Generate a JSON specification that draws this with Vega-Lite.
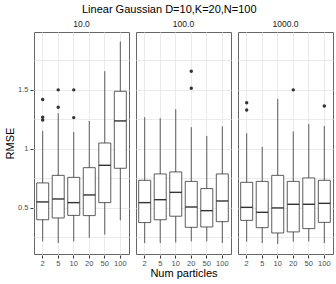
{
  "$schema": "https://vega.github.io/schema/vega-lite/v6.json",
  "padding": {"left": 4, "top": 3, "right": 2, "bottom": 2},
  "title": {"text": "Linear Gaussian D=10,K=20,N=100", "fontSize": 11, "fontWeight": "normal", "font": "Liberation Sans", "color": "#000", "anchor": "middle", "offset": 5},
  "data": {"values": [
    {"kind": "box", "sigma": "10.0", "n": 2, "lower": 0.217, "q1": 0.40, "median": 0.551, "q3": 0.712, "upper": 1.153},
    {"kind": "box", "sigma": "10.0", "n": 5, "lower": 0.203, "q1": 0.415, "median": 0.576, "q3": 0.776, "upper": 1.302},
    {"kind": "box", "sigma": "10.0", "n": 10, "lower": 0.217, "q1": 0.437, "median": 0.545, "q3": 0.759, "upper": 1.144},
    {"kind": "box", "sigma": "10.0", "n": 20, "lower": 0.248, "q1": 0.435, "median": 0.61, "q3": 0.841, "upper": 1.237},
    {"kind": "box", "sigma": "10.0", "n": 50, "lower": 0.274, "q1": 0.545, "median": 0.861, "q3": 1.05, "upper": 1.658},
    {"kind": "box", "sigma": "10.0", "n": 100, "lower": 0.395, "q1": 0.836, "median": 1.237, "q3": 1.488, "upper": 1.91},
    {"kind": "box", "sigma": "100.0", "n": 2, "lower": 0.203, "q1": 0.376, "median": 0.545, "q3": 0.734, "upper": 1.268},
    {"kind": "box", "sigma": "100.0", "n": 5, "lower": 0.203, "q1": 0.40, "median": 0.57, "q3": 0.788, "upper": 1.26},
    {"kind": "box", "sigma": "100.0", "n": 10, "lower": 0.208, "q1": 0.43, "median": 0.632, "q3": 0.805, "upper": 1.336},
    {"kind": "box", "sigma": "100.0", "n": 20, "lower": 0.217, "q1": 0.336, "median": 0.508, "q3": 0.725, "upper": 1.184},
    {"kind": "box", "sigma": "100.0", "n": 50, "lower": 0.217, "q1": 0.339, "median": 0.477, "q3": 0.664, "upper": 1.11},
    {"kind": "box", "sigma": "100.0", "n": 100, "lower": 0.203, "q1": 0.384, "median": 0.559, "q3": 0.788, "upper": 1.19},
    {"kind": "box", "sigma": "1000.0", "n": 2, "lower": 0.215, "q1": 0.395, "median": 0.505, "q3": 0.717, "upper": 1.133},
    {"kind": "box", "sigma": "1000.0", "n": 5, "lower": 0.203, "q1": 0.333, "median": 0.463, "q3": 0.725, "upper": 1.017},
    {"kind": "box", "sigma": "1000.0", "n": 10, "lower": 0.195, "q1": 0.288, "median": 0.50, "q3": 0.776, "upper": 1.424},
    {"kind": "box", "sigma": "1000.0", "n": 20, "lower": 0.215, "q1": 0.297, "median": 0.531, "q3": 0.725, "upper": 1.147},
    {"kind": "box", "sigma": "1000.0", "n": 50, "lower": 0.217, "q1": 0.325, "median": 0.531, "q3": 0.754, "upper": 1.212},
    {"kind": "box", "sigma": "1000.0", "n": 100, "lower": 0.203, "q1": 0.378, "median": 0.539, "q3": 0.734, "upper": 1.195},
    {"kind": "out", "sigma": "10.0", "n": 2, "value": 1.418},
    {"kind": "out", "sigma": "10.0", "n": 2, "value": 1.268},
    {"kind": "out", "sigma": "10.0", "n": 2, "value": 1.245},
    {"kind": "out", "sigma": "10.0", "n": 5, "value": 1.50},
    {"kind": "out", "sigma": "10.0", "n": 5, "value": 1.353},
    {"kind": "out", "sigma": "10.0", "n": 10, "value": 1.50},
    {"kind": "out", "sigma": "10.0", "n": 10, "value": 1.265},
    {"kind": "out", "sigma": "100.0", "n": 20, "value": 1.658},
    {"kind": "out", "sigma": "100.0", "n": 20, "value": 1.514},
    {"kind": "out", "sigma": "1000.0", "n": 2, "value": 1.39},
    {"kind": "out", "sigma": "1000.0", "n": 2, "value": 1.33},
    {"kind": "out", "sigma": "1000.0", "n": 20, "value": 1.50},
    {"kind": "out", "sigma": "1000.0", "n": 100, "value": 1.364}
  ]},
  "facet": {"column": {"field": "sigma", "type": "nominal", "title": "Num particles",
    "header": {"labelFontSize": 8.5, "labelFont": "Liberation Sans", "labelColor": "#1a1a1a", "labelPadding": 3, "labelOrient": "top",
      "titleOrient": "bottom", "titleFont": "Liberation Sans", "titleFontSize": 11, "titleFontWeight": "normal", "titleColor": "#000", "titlePadding": -9}}},
  "spacing": 5,
  "spec": {
    "width": 95,
    "height": 222,
    "encoding": {
      "x": {"field": "n", "type": "ordinal", "sort": [2, 5, 10, 20, 50, 100],
        "scale": {"paddingInner": 0, "paddingOuter": 0.06},
        "axis": {"bandPosition": 0.5, "labelAngle": 0, "grid": true, "labelPadding": 1},
        "title": null}
    },
    "resolve": {"axis": {"y": "independent"}},
    "layer": [
      {
        "transform": [{"filter": "datum.kind == 'box'"}],
        "mark": {"type": "rule", "color": "#333", "strokeWidth": 0.8},
        "encoding": {
          "y": {"field": "lower", "type": "quantitative",
            "scale": {"domain": [0.11, 1.99], "nice": false, "zero": false},
            "axis": {"values": [0.5, 1, 1.5], "format": "~g", "titlePadding": 2},
            "title": "RMSE"},
          "y2": {"field": "upper"}
        }
      },
      {
        "transform": [{"filter": "datum.kind == 'box'"}],
        "mark": {"type": "bar", "size": 12, "fill": "white", "stroke": "#333", "strokeWidth": 0.8},
        "encoding": {
          "y": {"field": "q1", "type": "quantitative",
            "axis": {"values": [0.25, 0.75, 1.25, 1.75], "orient": "right", "labels": false, "ticks": false, "domain": false, "grid": true, "title": null}},
          "y2": {"field": "q3"}
        }
      },
      {
        "transform": [{"filter": "datum.kind == 'box'"}],
        "mark": {"type": "tick", "size": 12, "thickness": 1.4, "color": "#333", "opacity": 1},
        "encoding": {
          "y": {"field": "median", "type": "quantitative", "axis": null}
        }
      },
      {
        "transform": [{"filter": "datum.kind == 'out'"}],
        "mark": {"type": "point", "filled": true, "size": 12, "color": "#333", "opacity": 1},
        "encoding": {
          "y": {"field": "value", "type": "quantitative", "axis": null}
        }
      }
    ]
  },
  "config": {
    "view": {"stroke": "#666", "strokeWidth": 1},
    "axis": {"labelFont": "Liberation Sans", "titleFont": "Liberation Sans", "labelFontSize": 7.5, "labelColor": "#4d4d4d",
      "titleFontSize": 11, "titleFontWeight": "normal", "titleColor": "#000", "tickColor": "#333", "tickSize": 3,
      "domain": false, "gridColor": "#ebebeb", "gridWidth": 1, "labelPadding": 2, "titlePadding": 3}
  }
}
